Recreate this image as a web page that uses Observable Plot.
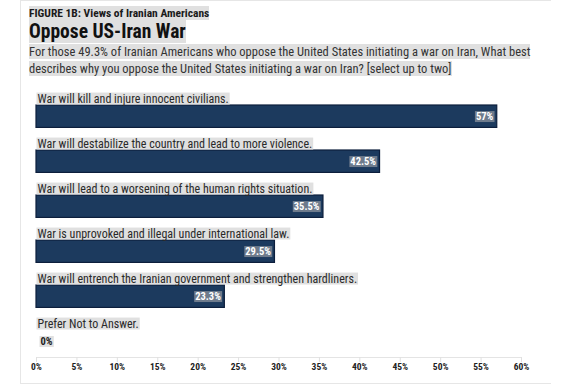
<!DOCTYPE html>
<html>
<head>
<meta charset="utf-8">
<script src="https://cdn.jsdelivr.net/npm/d3@7"></script>
<script src="https://cdn.jsdelivr.net/npm/@observablehq/plot@0.6"></script>
<style>
  html, body { margin: 0; padding: 0; background: #fff; }
  body { width: 570px; height: 392px; position: relative; overflow: hidden;
         font-family: "Roboto Condensed", "Liberation Sans Narrow", "DejaVu Sans Condensed", "Arial Narrow", Roboto, sans-serif; font-stretch: condensed; }
  .card { position: absolute; left: 20px; top: 0px; width: 530px; height: 382px;
          border-left: 1px solid #e6e6e6; border-top: 1px solid #e6e6e6; border-bottom: 1px solid #e6e6e6; }
  .hl { background: #e0e0e0; }
  .t1 { position: absolute; left: 29px; top: 7px; font-size: 11.5px; font-weight: bold; line-height: 13px; color: #1a1a1a; white-space: nowrap; }
  .t2 { position: absolute; left: 29px; top: 20px; font-size: 19.5px; font-weight: bold; line-height: 23px; color: #111; white-space: nowrap; }
  .sub { position: absolute; left: 29px; top: 43px; font-size: 12.5px; line-height: 17px; color: #333; white-space: nowrap; }
  #chart { position: absolute; left: 0; top: 84px; }
</style>
</head>
<body>
<div class="card"></div>
<div class="t1"><span class="hl">FIGURE 1B: Views of Iranian Americans</span></div>
<div class="t2"><span class="hl">Oppose US-Iran War</span></div>
<div class="sub"><span class="hl">For those 49.3% of Iranian Americans who oppose the United States initiating a war on Iran, What best</span><br><span class="hl">describes why you oppose the United States initiating a war on Iran? [select up to two]</span></div>
<div id="chart"></div>
<script>
const categories = [
  "War will kill and injure innocent civilians.",
  "War will destabilize the country and lead to more violence.",
  "War will lead to a worsening of the human rights situation.",
  "War is unprovoked and illegal under international law.",
  "War will entrench the Iranian government and strengthen hardliners.",
  "Prefer Not to Answer."
];
const values = [57, 42.5, 35.5, 29.5, 23.3, 0];
const valueLabels = ["57%", "42.5%", "35.5%", "29.5%", "23.3%", "0%"];
const xTicks = [0, 5, 10, 15, 20, 25, 30, 35, 40, 45, 50, 55, 60];

const data = categories.map((c, i) => ({category: c, value: values[i], label: valueLabels[i]}));
const FONT = '"Roboto Condensed", "Liberation Sans Narrow", "DejaVu Sans Condensed", "Arial Narrow", Roboto, sans-serif';

const pitch = 45.6;
const top0 = 19.3;

const chart = Plot.plot({
  width: 570,
  height: 300,
  marginLeft: 36,
  marginRight: 49,
  marginTop: 10,
  marginBottom: 27,
  style: {fontFamily: FONT, background: "transparent", overflow: "visible"},
  x: {domain: [0, 60], axis: null, label: null},
  y: {domain: categories, range: [top0, top0 + pitch * categories.length], padding: 0, axis: null},
  marks: [
    Plot.frame({anchor: "bottom", stroke: "#e4e4e4"}),
    Plot.axisX({ticks: xTicks, tickFormat: d => d + "%", tickSize: 5, tickPadding: 1, label: null,
                stroke: "#e0e0e0", fill: "#222", fontSize: 9.5, fontWeight: "bold"}),
    Plot.barX(data, {x: "value", y: "category", fill: "#1c3a5e", stroke: "#0c1e3c", strokeWidth: 1.2,
                     insetTop: 0, insetBottom: pitch - 23}),
    Plot.ruleX(data.filter(d => d.value === 0), {x: 0, y: "category", stroke: "#c4c4c4", strokeWidth: 1.2,
                     insetTop: 0, insetBottom: pitch - 23}),
    Plot.text(data, {x: 0, y: "category", text: "category", textAnchor: "start", dx: 1, dy: -29.3,
                     fill: "#2a2a2a", fontSize: 12, className: "rowlabel"}),
    Plot.text(data.filter(d => d.value > 0), {x: "value", y: "category", text: "label", textAnchor: "end", dx: -4, dy: -11.3,
                     fill: "#fff", fontSize: 10.5, fontWeight: "bold", className: "vallabel"}),
    Plot.text(data.filter(d => d.value === 0), {x: "value", y: "category", text: "label", textAnchor: "start", dx: 4, dy: -11.3,
                     fill: "#222", fontSize: 10.5, fontWeight: "bold", className: "zerolabel"})
  ]
});
document.getElementById("chart").appendChild(chart);

// add highlight boxes behind texts
function boxes(cls, fill, padX, padY) {
  chart.querySelectorAll("g." + cls).forEach(g => {
    g.querySelectorAll("text").forEach(t => {
      const b = t.getBBox();
      const r = document.createElementNS("http://www.w3.org/2000/svg", "rect");
      r.setAttribute("x", b.x - padX);
      r.setAttribute("y", b.y - padY);
      r.setAttribute("width", b.width + 2 * padX);
      r.setAttribute("height", b.height + 2 * padY);
      r.setAttribute("fill", fill);
      const tr = t.getAttribute("transform");
      if (tr) r.setAttribute("transform", tr);
      t.parentNode.insertBefore(r, t);
    });
  });
}
boxes("rowlabel", "#e0e0e0", 1, -1);
boxes("vallabel", "#6e7b8c", 1, -1);
boxes("zerolabel", "#e0e0e0", 1, -1);
</script>
</body>
</html>
